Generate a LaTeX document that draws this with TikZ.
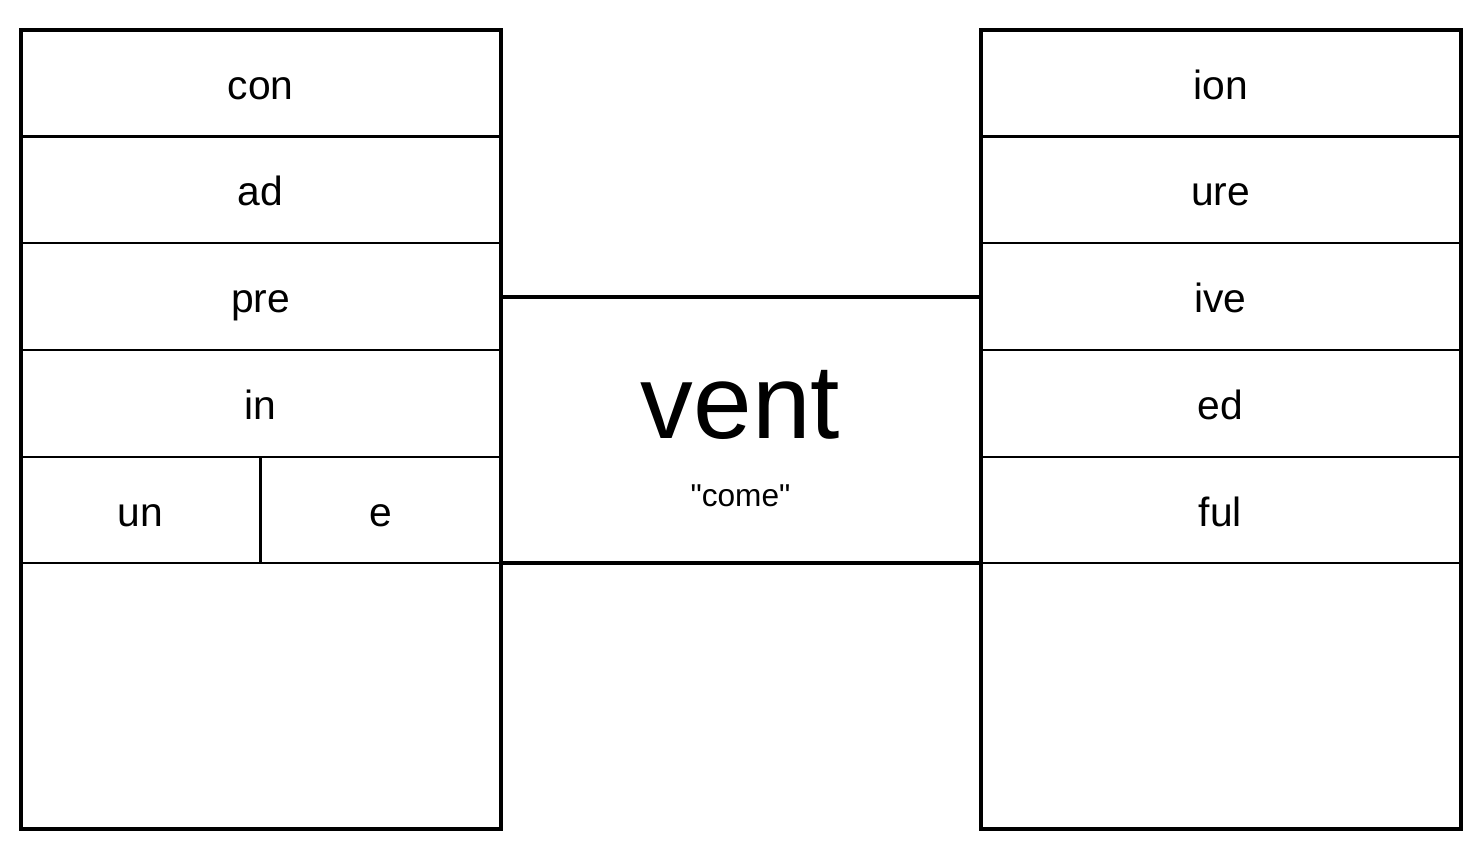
\documentclass[tikz,border=0pt]{standalone}
\usepackage{fontspec}
\setmainfont{Liberation Sans}[Ligatures=TeXOff]

\begin{document}
\begin{tikzpicture}[
                x=0.025cm,y=-0.025cm,
                line width=1.4pt,
                cell/.style={draw,minimum height=2.665cm,inner sep=0pt,text height=24pt,text depth=1.2pt,font=\fontsize{29}{30}\selectfont}] %

\useasboundingbox (0,0) rectangle (1478,864);

                    % prefixes
                    \node[cell,minimum width=12cm] (CON) at (260.5,83.25) {con}; % 1
                    \node[cell,minimum width=12cm] (AD) at (260.5,189.75) {ad}; % 2
                    \node[cell,minimum width=12cm] (PRE) at (260.5,296.25) {pre}; % 3
                    \node[cell,minimum width=12cm] (IN) at (260.5,403.25) {in}; % 4
                    \node[cell,minimum width=6cm] (UN) at (140.5,510) {un}; % 5
                    \node[cell,minimum width=6cm] (E) at (380.5,510) {e}; % 5

                    \draw[line width=2.85pt] (21,30) rectangle (500.5,829);


                    % root
                    \node[anchor=base,inner sep=0pt,font=\fontsize{75}{75}\selectfont] (VENT) at (740.5,438) {vent};
                    \node[anchor=base,inner sep=0pt,font=\fontsize{22.5}{23}\selectfont] (COME) at (740.5,506) {"come"};

                    \draw[line width=2.85pt] (500.5,296.5) -- (980.5,296.5);
                    \draw[line width=2.85pt] (500.5,563) -- (980.5,563);


                    % suffixes
                    \node[cell,minimum width=12cm] (ION) at (1220.5,83.25) {ion}; % 1
                    \node[cell,minimum width=12cm] (URE) at (1220.5,189.75) {ure}; % 2
                    \node[cell,minimum width=12cm] (IVE) at (1220.5,296.25) {ive}; % 3
                    \node[cell,minimum width=12cm] (ED) at (1220.5,403.25) {ed}; % 4
                    \node[cell,minimum width=12cm] (FUL) at (1220.5,510) {ful}; % 5

                    \draw[line width=2.85pt] (981,30) rectangle (1460.5,829);

\end{tikzpicture}
\end{document}
